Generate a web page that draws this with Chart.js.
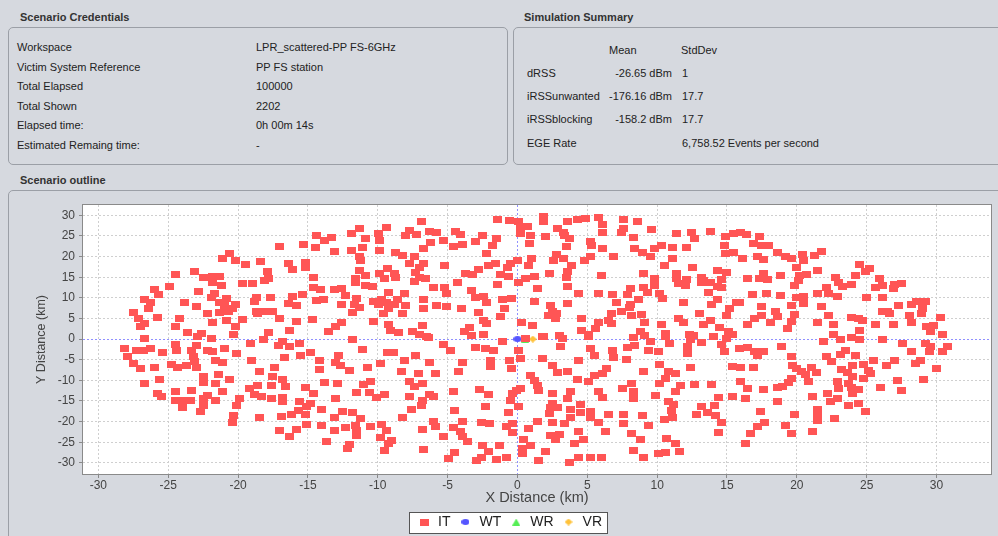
<!DOCTYPE html>
<html>
<head>
<meta charset="utf-8">
<script src="https://cdn.jsdelivr.net/npm/chart.js@4.4.0/dist/chart.umd.min.js"></script>
<style>
html, body { margin: 0; padding: 0; }
body { width: 998px; height: 536px; overflow: hidden; position: relative; background: #d6d9df;
  font-family: "Liberation Sans", Arial, sans-serif; font-size: 11px; color: #222; }
.ttl { position: absolute; font-weight: bold; color: #333; line-height: 14px; }
.box { position: absolute; border: 1px solid #9b9fa6; border-radius: 5px; }
.t { position: absolute; white-space: nowrap; line-height: 14px; }
.r { text-align: right; }
#chart { position: absolute; left: 28px; top: 190px; }
</style>
</head>
<body>
<div class="ttl" style="left:20px;top:10px">Scenario Credentials</div>
<div class="box" style="left:8px;top:27px;width:498px;height:136px"></div>
<div id="cred"></div>

<div class="ttl" style="left:524px;top:10px">Simulation Summary</div>
<div class="box" style="left:513px;top:27px;width:500px;height:136px"></div>
<div id="sum"></div>

<div class="ttl" style="left:20px;top:173px">Scenario outline</div>
<div class="box" style="left:8px;top:190px;width:1005px;height:360px"></div>
<canvas id="chart" width="970" height="349"></canvas>

<script>
// panel texts
var credLabels = ['Workspace', 'Victim System Reference', 'Total Elapsed', 'Total Shown', 'Elapsed time:', 'Estimated Remaing time:'];
var credValues = ['LPR_scattered-PP FS-6GHz', 'PP FS station', '100000', '2202', '0h 00m 14s', '-'];
var sumRows = ['dRSS', 'iRSSunwanted', 'iRSSblocking', 'EGE Rate'];
var sumMean = ['-26.65 dBm', '-176.16 dBm', '-158.2 dBm', ''];
var sumStd = ['1', '17.7', '17.7', '6,758.52 Events per second'];

// scatter data (km)
var itPoints = [
[-17.0,22.5],[-20.6,20.8],[-21.1,19.5],[-20.2,19.1],[-19.5,18.1],[-18.4,18.8],[-16.4,18.2],[-16.1,16.8],[-17.9,16.4],[-17.8,14.8],
[-18.1,14.3],[-24.5,15.6],[-23.1,16.4],[-22.5,14.9],[-21.8,15.2],[-21.3,15.1],[-21.8,13.6],[-21.2,13.0],[-24.9,12.7],[-26.0,12.1],
[-25.7,10.8],[-22.8,11.6],[-21.7,11.1],[-21.9,10.0],[-19.7,13.4],[-19.0,13.4],[-20.8,9.9],[-21.3,8.9],[-21.0,8.1],[-20.2,8.4],
[-18.7,10.1],[-18.8,9.2],[-17.7,10.1],[-16.1,10.4],[-16.4,8.6],[-15.8,8.2],[-23.8,8.8],[-23.0,8.0],[-26.7,9.5],[-26.3,8.8],
[-26.4,7.5],[-27.5,6.4],[-27.1,5.1],[-26.7,3.7],[-27.0,3.1],[-25.8,5.2],[-24.2,4.9],[-24.5,3.0],[-22.2,6.1],[-21.8,4.0],
[-21.3,6.5],[-20.8,4.5],[-20.7,6.8],[-20.4,7.3],[-20.2,3.1],[-19.7,4.7],[-18.7,6.6],[-18.6,6.1],[-18.0,6.6],[-17.5,6.6],
[-17.0,4.9],[-15.8,4.2],[-16.3,2.1],[-17.8,1.6],[-23.6,1.6],[-22.6,1.4],[-20.3,1.2],
[-6.9,28.4],[-1.4,29.0],[-0.6,28.8],[0.05,28.4],[-11.3,26.8],[-11.9,25.5],[-10.9,24.5],[-14.4,25.0],[-13.8,23.8],[-13.3,24.6],
[-14.45,22.3],[-15.3,23.0],[-9.95,25.7],[-9.4,27.0],[-9.9,23.9],[-7.7,26.4],[-8.0,25.1],[-7.2,25.3],[-6.3,26.1],[-5.8,25.9],
[-6.2,23.4],[-6.7,21.9],[-5.3,24.0],[-4.45,26.1],[-4.05,25.4],[-3.9,23.0],[-4.6,22.5],[-3.0,23.7],[-2.5,25.1],[-1.5,24.5],
[-1.8,22.7],[-2.2,20.7],[-13.1,21.2],[-11.9,21.5],[-11.1,22.1],[-9.9,21.5],[-11.3,19.9],[-11.2,19.1],[-8.7,21.1],[-8.2,20.3],
[-7.4,19.9],[-7.7,18.2],[-6.7,18.2],[-7.0,17.3],[-5.2,17.8],[-15.2,18.6],[-15.2,17.4],[-9.3,17.0],[-8.8,15.9],[-8.75,15.0],
[-11.3,16.6],[-10.9,15.4],[-9.9,15.8],[-9.5,14.8],[-7.3,16.2],[-7.0,15.0],[-6.55,14.6],[-7.4,14.0],[-14.6,15.0],[-11.6,14.8],
[-11.6,13.6],[-10.9,13.0],[-10.4,12.7],[-3.7,16.0],[-3.2,15.6],[-2.8,16.8],[-2.1,17.8],[-1.55,18.2],[-0.7,17.4],[-0.5,18.2],
[0.0,19.1],[-1.2,15.6],[-0.64,15.2],[-4.3,13.6],[-1.4,13.3],[0.07,13.6],[-14.6,12.4],[-14.1,12.0],[-13.1,12.0],[-12.6,12.3],
[-12.3,10.5],[-15.4,10.8],[-6.0,12.6],[-5.2,12.4],[-5.1,11.0],[-3.3,11.8],[-9.2,11.4],[-8.05,11.0],[-14.4,9.3],[-13.9,9.7],
[-11.5,9.9],[-11.7,8.3],[-11.3,7.7],[-11.8,6.5],[-12.6,8.3],[-10.3,9.1],[-9.7,9.6],[-9.95,8.3],[-9.4,8.9],[-8.6,9.5],
[-8.8,8.3],[-9.2,7.3],[-9.6,6.1],[-8.0,8.1],[-8.2,6.2],[-6.7,9.7],[-6.7,7.3],[-5.8,8.1],[-5.1,7.9],[-4.0,7.5],
[-3.0,10.1],[-2.4,10.4],[-2.2,8.8],[-1.1,9.7],[-0.45,9.9],[-0.95,7.5],[-1.2,5.5],[-2.8,6.5],[-2.4,4.5],[-2.2,3.8],
[-14.7,4.7],[-12.6,3.9],[-13.0,3.1],[-13.5,1.9],[-10.3,4.2],[-9.2,3.5],[-9.1,2.0],[-8.5,1.5],[-7.5,1.8],[-6.8,3.4],
[-7.0,1.2],[-6.5,0.6],[-3.8,1.9],[-3.4,2.7],[-3.3,0.8],[-2.4,1.2],
[1.9,29.6],[1.9,28.5],[0.25,27.2],[0.7,27.4],[0.25,25.5],[0.95,25.1],[0.85,23.1],[3.6,28.4],[4.3,29.0],[4.9,29.2],
[5.8,29.4],[6.1,27.7],[6.1,25.9],[7.6,29.0],[8.6,28.4],[7.6,26.8],[7.45,25.8],[9.6,26.6],[2.9,26.9],[3.3,25.8],
[3.4,25.1],[3.7,24.3],[2.0,24.9],[8.3,24.6],[11.4,25.5],[12.45,25.9],[12.7,24.3],[13.8,26.1],[14.9,24.9],[15.5,25.5],
[5.2,23.6],[5.3,22.7],[3.5,22.5],[6.1,21.9],[8.4,21.9],[8.95,21.1],[9.8,21.9],[10.3,22.7],[11.1,22.3],[12.1,22.1],
[14.8,22.6],[14.9,20.7],[15.5,21.1],[2.8,20.5],[3.3,19.5],[2.6,19.1],[1.0,19.6],[0.8,17.8],[5.2,19.9],[4.8,19.1],
[6.9,19.9],[9.5,19.9],[11.1,19.6],[10.5,17.8],[3.9,17.8],[3.6,16.4],[3.5,15.0],[2.3,16.0],[1.2,15.2],[0.55,14.8],
[6.0,15.4],[9.0,16.0],[9.8,14.8],[9.8,13.0],[9.0,12.6],[9.3,11.2],[8.1,12.2],[7.9,10.7],[12.5,17.4],[11.4,15.8],
[11.4,14.6],[11.5,13.4],[12.1,14.4],[12.0,13.0],[13.2,15.0],[13.3,14.2],[13.15,13.6],[13.8,13.6],[14.3,16.7],[15.0,16.2],
[14.6,14.4],[14.3,12.7],[14.6,12.5],[13.7,11.3],[14.3,9.6],[13.9,8.3],[15.7,8.8],[15.2,7.3],[15.0,5.7],[1.4,12.3],
[3.6,12.8],[4.4,11.1],[5.8,11.1],[6.8,10.7],[7.1,8.8],[8.1,8.4],[8.0,7.7],[8.7,9.5],[7.45,6.7],[8.2,5.7],
[8.9,5.9],[10.2,11.0],[10.4,9.8],[11.9,8.8],[1.2,9.1],[2.4,8.1],[2.5,6.6],[2.8,6.1],[2.2,5.7],[2.7,5.0],
[3.6,8.7],[4.6,5.0],[6.7,6.1],[6.5,4.5],[5.8,4.0],[5.6,2.6],[4.6,2.0],[5.1,1.2],[6.7,3.7],[9.1,4.0],
[8.8,1.8],[9.1,0.8],[10.3,3.5],[10.6,1.4],[11.5,4.9],[11.9,4.1],[13.0,6.1],[13.3,3.5],[13.8,4.5],[14.5,2.9],
[15.1,1.8],[15.4,1.2],[12.3,1.2],[12.6,0.8],[0.3,3.9],[1.1,3.4],[1.8,0.65],[3.0,0.8],
[15.95,25.9],[16.4,25.3],[17.3,24.9],[16.9,23.1],[17.5,22.7],[18.0,22.7],[18.6,21.1],[19.2,19.9],[19.6,19.5],[20.4,20.4],
[20.5,19.1],[21.3,20.3],[21.8,21.2],[16.1,19.5],[17.2,19.9],[17.6,19.3],[19.95,17.4],[21.5,16.6],[16.5,14.8],[17.6,15.8],
[17.3,14.8],[17.9,14.4],[18.8,15.4],[20.2,15.4],[20.7,15.6],[20.1,14.2],[19.8,13.1],[24.5,18.0],[25.2,17.2],[24.9,16.4],
[24.2,15.3],[22.8,14.9],[23.0,13.7],[23.3,12.8],[23.9,13.2],[22.1,12.6],[25.95,14.8],[26.1,13.0],[25.6,12.4],[27.0,13.2],
[26.95,12.2],[27.5,13.4],[16.8,10.8],[17.8,11.0],[18.8,10.6],[20.0,10.2],[20.5,10.4],[21.5,11.0],[22.3,11.0],[22.9,10.4],
[25.0,10.2],[26.1,10.2],[15.9,8.8],[17.5,7.8],[19.6,8.1],[20.5,8.7],[21.8,7.9],[18.5,6.6],[18.6,5.4],[19.8,5.9],
[19.6,4.2],[17.5,5.7],[17.0,4.9],[16.5,3.5],[18.1,3.9],[19.3,2.5],[21.5,4.0],[22.3,5.6],[22.6,3.5],[23.9,5.3],
[24.4,4.9],[24.7,4.5],[24.5,2.2],[22.6,1.2],[25.6,3.5],[26.1,6.6],[26.5,6.8],[26.6,6.1],[27.3,8.1],[28.2,8.3],
[28.6,9.1],[29.2,9.1],[29.0,7.3],[28.1,5.7],[28.9,6.1],[28.2,3.9],[26.9,3.5],[29.3,3.1],[29.8,3.3],[29.6,1.8],
[30.3,5.3],[30.4,1.2],[23.9,0.4],
[-26.7,0.2],[-22.9,0.6],[-21.9,0.2],[-18.2,0.0],[-16.8,-0.5],[-15.6,-1.0],[-28.1,-2.3],[-27.3,-2.7],[-26.8,-2.7],[-26.3,-2.3],
[-27.9,-4.3],[-25.4,-3.3],[-24.5,-1.3],[-24.4,-2.7],[-23.3,-2.7],[-23.0,-1.5],[-22.2,-2.7],[-21.8,-3.1],[-21.0,-2.3],[-20.1,-3.6],
[-19.1,-1.1],[-17.1,-1.5],[-16.3,-1.7],[-16.7,-4.5],[-19.05,-5.1],[-23.2,-4.3],[-23.1,-5.5],[-23.7,-6.5],[-24.3,-6.9],[-24.8,-6.1],
[-23.0,-6.9],[-21.6,-5.1],[-21.1,-5.7],[-27.5,-5.9],[-27.0,-7.1],[-26.0,-6.9],[-25.6,-9.8],[-26.7,-10.8],[-22.5,-9.1],[-22.5,-10.6],
[-21.4,-8.7],[-21.6,-10.8],[-20.6,-9.7],[-18.5,-7.8],[-17.4,-6.9],[-17.5,-9.1],[-16.8,-9.7],[-16.6,-11.4],[-17.6,-11.2],[-19.2,-12.0],
[-18.6,-11.2],[-18.8,-13.4],[-18.3,-13.8],[-17.6,-14.4],[-16.8,-14.2],[-16.8,-15.2],[-15.6,-15.2],[-15.7,-17.2],[-16.2,-18.2],[-16.9,-18.7],
[-15.8,-21.8],[-17.0,-22.1],[-16.3,-23.5],[-18.5,-18.9],[-19.9,-14.4],[-20.1,-16.0],[-20.3,-18.4],[-20.4,-20.3],[-21.1,-12.6],[-21.6,-15.0],
[-22.2,-13.6],[-22.5,-14.4],[-22.5,-16.2],[-22.7,-17.6],[-23.3,-12.4],[-23.4,-15.0],[-24.0,-14.8],[-24.5,-14.8],[-24.5,-12.6],[-24.0,-16.6],
[-25.8,-13.2],[-25.5,-14.0],
[-11.8,-0.2],[-6.4,0.3],[-1.1,-0.5],[0.1,-2.7],[-15.5,-3.9],[-14.8,-3.2],[-14.2,-5.3],[-14.2,-7.4],[-12.8,-3.9],[-13.0,-5.7],
[-12.7,-6.3],[-12.0,-7.7],[-11.1,-2.5],[-10.7,-6.9],[-9.8,-5.9],[-9.3,-3.3],[-8.9,-3.3],[-8.1,-5.3],[-7.3,-4.0],[-8.3,-7.9],
[-7.1,-8.3],[-6.3,-5.7],[-5.85,-8.3],[-5.3,-1.3],[-4.8,-2.7],[-3.9,-5.7],[-4.2,-7.9],[-3.0,-2.1],[-2.3,-2.3],[-1.7,-2.7],
[-1.9,-5.3],[-1.9,-6.7],[-0.6,-5.1],[-0.4,-7.1],[0.2,-4.7],[-15.2,-11.7],[-14.6,-13.2],[-14.8,-15.6],[-15.1,-16.4],[-15.2,-18.2],
[-13.8,-10.6],[-12.9,-10.8],[-13.0,-14.4],[-14.0,-17.0],[-13.1,-19.1],[-12.5,-17.6],[-11.8,-17.9],[-11.2,-19.3],[-11.5,-12.9],[-11.0,-11.0],
[-10.5,-10.4],[-10.6,-12.9],[-10.1,-14.2],[-9.5,-13.4],[-15.1,-20.7],[-14.0,-20.9],[-13.1,-22.1],[-12.3,-21.5],[-11.6,-20.9],[-11.5,-22.1],
[-11.5,-23.3],[-10.5,-21.3],[-9.7,-20.7],[-9.4,-22.1],[-9.8,-23.9],[-13.7,-24.9],[-12.0,-25.5],[-12.2,-26.5],[-9.0,-24.5],[-9.2,-25.3],
[-9.5,-26.9],[-7.7,-10.4],[-7.4,-11.6],[-6.8,-10.8],[-7.7,-14.0],[-6.8,-14.8],[-6.9,-16.0],[-6.3,-13.4],[-6.0,-14.0],[-7.6,-17.0],
[-8.2,-18.9],[-6.0,-19.9],[-5.9,-21.1],[-6.8,-21.9],[-6.7,-26.8],[-5.3,-23.7],[-4.6,-12.8],[-4.5,-17.2],[-4.6,-21.5],[-3.9,-19.9],
[-4.1,-22.5],[-3.9,-23.5],[-3.6,-24.9],[-4.5,-27.6],[-4.9,-29.0],[-2.7,-12.1],[-2.1,-13.4],[-2.3,-16.4],[-2.6,-20.1],[-2.0,-20.5],
[-2.5,-25.9],[-2.1,-27.3],[-2.6,-28.6],[-2.9,-29.4],[-1.5,-29.1],[-0.8,-28.8],[-1.3,-25.7],[-0.8,-21.3],[-0.36,-20.5],[-0.36,-22.7],
[-0.64,-17.9],[-0.48,-15.0],[-0.36,-13.2],[-0.1,-12.4],[0.1,-16.4],
[1.9,0.6],[3.2,0.2],[5.1,0.7],[8.3,0.3],[9.5,-0.6],[10.6,0.6],[12.4,-0.2],[13.2,-0.8],[14.0,0.6],[15.0,0.2],
[3.1,-1.9],[5.2,-2.4],[5.55,-3.9],[6.8,-2.7],[6.9,-4.5],[7.9,-2.1],[8.4,-1.5],[7.8,-4.9],[9.4,-2.7],[10.1,-2.9],
[10.9,-1.1],[12.2,-1.9],[12.2,-3.5],[14.6,-1.3],[14.8,-3.1],[1.8,-4.7],[4.4,-5.3],[2.5,-6.5],[2.9,-8.1],[3.6,-7.9],
[6.4,-7.1],[6.1,-8.3],[5.5,-8.9],[5.1,-10.2],[4.3,-9.8],[0.9,-8.9],[1.2,-10.0],[1.4,-11.2],[1.5,-12.4],[0.2,-12.0],
[9.0,-7.9],[10.2,-6.1],[10.8,-7.8],[11.3,-8.3],[10.6,-9.5],[10.2,-10.8],[11.7,-11.2],[11.3,-12.8],[12.4,-6.9],[12.7,-11.0],
[13.9,-11.0],[15.4,-6.7],[15.4,-13.8],[14.4,-14.2],[7.5,-12.0],[8.2,-10.8],[8.3,-12.6],[8.3,-14.4],[9.9,-13.6],[5.8,-12.8],
[6.1,-14.2],[3.8,-12.6],[3.6,-14.4],[2.5,-13.2],[2.5,-15.6],[2.4,-16.7],[2.3,-18.0],[2.9,-16.7],[4.5,-15.9],[4.5,-17.8],
[3.8,-17.0],[3.8,-18.9],[3.4,-20.5],[2.5,-20.1],[1.4,-19.9],[0.8,-21.7],[5.2,-17.6],[5.2,-18.9],[5.8,-20.2],[6.5,-18.2],
[7.6,-18.3],[7.6,-20.5],[8.95,-18.6],[9.4,-20.9],[10.5,-19.4],[11.1,-18.9],[11.0,-17.2],[11.2,-15.8],[10.8,-15.1],[12.8,-18.3],
[13.2,-16.4],[13.6,-17.8],[14.1,-16.2],[14.2,-18.4],[14.6,-20.3],[14.4,-22.7],[4.4,-22.5],[4.7,-24.3],[6.3,-22.3],[8.2,-22.9],
[8.8,-24.3],[10.7,-24.0],[11.3,-25.3],[11.6,-27.2],[10.6,-27.5],[10.1,-27.8],[9.0,-28.6],[8.3,-26.9],[2.4,-23.3],[3.0,-23.1],
[2.7,-24.3],[4.05,-25.3],[0.4,-24.3],[0.95,-25.9],[0.35,-26.5],[0.35,-27.8],[2.0,-27.3],[1.5,-29.4],[3.7,-29.8],[4.4,-28.8],
[5.2,-28.6],[6.0,-28.6],[0.55,0.05],
[21.9,-0.6],[23.1,0.0],[24.5,-0.2],[26.1,-0.2],[27.6,-1.1],[29.2,-1.1],[29.6,-1.9],[30.8,-1.9],[30.4,-3.1],[29.5,-3.1],
[28.2,-2.9],[28.85,-5.1],[28.5,-5.9],[27.0,-5.3],[26.4,-6.5],[25.5,-5.3],[24.8,-6.1],[25.1,-7.5],[25.3,-8.3],[24.8,-9.5],
[24.2,-3.9],[23.5,-2.7],[23.1,-3.7],[22.1,-4.3],[22.5,-5.5],[24.0,-6.5],[23.2,-7.3],[23.6,-8.1],[24.0,-9.0],[22.9,-10.4],
[23.7,-10.8],[23.9,-11.8],[24.4,-12.2],[24.0,-13.2],[23.0,-12.0],[22.9,-14.4],[22.4,-15.2],[22.2,-13.2],[23.7,-16.2],[24.4,-15.6],
[24.95,-17.5],[22.7,-19.3],[21.5,-17.0],[21.5,-18.2],[21.5,-19.8],[21.1,-22.3],[19.8,-18.2],[19.2,-20.9],[19.6,-22.9],[21.1,-13.8],
[21.4,-8.1],[21.05,-6.9],[20.6,-8.7],[20.8,-10.4],[20.3,-7.8],[20.0,-7.1],[19.7,-6.5],[19.6,-4.3],[18.9,-1.9],[19.6,-9.6],
[19.4,-10.6],[19.0,-11.6],[18.6,-11.7],[18.6,-15.2],[17.6,-12.2],[16.5,-11.9],[16.3,-14.4],[17.4,-17.6],[17.7,-20.2],[17.2,-21.3],
[16.7,-22.9],[16.3,-25.3],[15.9,-2.3],[16.5,-2.1],[17.0,-3.1],[17.2,-4.0],[17.6,-2.9],[16.9,-6.9],[16.0,-6.9],[16.0,-10.2],
[26.0,-11.8],[27.2,-10.1],[27.5,-12.4],[29.1,-9.7],[30.0,-7.1]
];
var wtPoints = [[0, 0]];
var wrPoints = [[0.55, 0]];
var vrPoints = [[1.1, 0]];
var seriesNames = ['IT', 'WT', 'WR', 'VR'];
var xTicks = [-30, -25, -20, -15, -10, -5, 0, 5, 10, 15, 20, 25, 30];
var yTicks = [-30, -25, -20, -15, -10, -5, 0, 5, 10, 15, 20, 25, 30];

// panels
function addText(parent, txt, left, top, cls, width) {
  var d = document.createElement('div');
  d.className = 't' + (cls ? ' ' + cls : '');
  d.textContent = txt;
  d.style.left = left + 'px';
  d.style.top = top + 'px';
  if (width) d.style.width = width + 'px';
  parent.appendChild(d);
}
var cred = document.getElementById('cred');
var credY = [47, 67, 86, 106, 125, 145];
credLabels.forEach(function (l, i) {
  addText(cred, l, 17, credY[i] - 7);
  addText(cred, credValues[i], 256, credY[i] - 7);
});
var sum = document.getElementById('sum');
var sumY = [73, 96, 119, 143];
addText(sum, 'Mean', 609, 43);
addText(sum, 'StdDev', 681, 43);
sumRows.forEach(function (l, i) {
  addText(sum, l, 527, sumY[i] - 7);
  addText(sum, sumMean[i], 572, sumY[i] - 7, 'r', 100);
  addText(sum, sumStd[i], 682, sumY[i] - 7);
});

// marker shapes
function marker(w, h, color, shape) {
  var c = document.createElement('canvas');
  c.width = w; c.height = h;
  var g = c.getContext('2d');
  g.fillStyle = color;
  g.beginPath();
  if (shape === 'rect') g.rect(0, 0, w, h);
  else if (shape === 'circle') g.ellipse(w / 2, h / 2, w / 2, h / 2, 0, 0, Math.PI * 2);
  else if (shape === 'tri') { g.moveTo(w / 2, 0); g.lineTo(w, h); g.lineTo(0, h); g.closePath(); }
  else { g.moveTo(w / 2, 0); g.lineTo(w, h / 2); g.lineTo(w / 2, h); g.lineTo(0, h / 2); g.closePath(); }
  g.fill();
  return c;
}
var colors = ['#ff5555', '#5555ff', '#55ee55', '#ffc23a'];
var styles = [marker(9, 7, colors[0], 'rect'), marker(8, 6, colors[1], 'circle'),
              marker(8, 7, colors[2], 'tri'), marker(8, 7, colors[3], 'diamond')];

function toXY(arr) { return arr.map(function (p) { return {x: p[0], y: p[1]}; }); }
var allPoints = [itPoints, wtPoints, wrPoints, vrPoints];

var plotFrame = {
  id: 'plotFrame',
  beforeDraw: function (chart) {
    var ctx = chart.ctx, a = chart.chartArea, lg = chart.legend;
    ctx.save();
    ctx.fillStyle = '#ffffff';
    ctx.fillRect(a.left, a.top, a.right - a.left, a.bottom - a.top);
    // legend box
    var pad = lg.options.labels.padding;
    var x0 = (lg.left + pad + lg.right - lg.lineWidths[0]) / 2;
    var x1 = x0 + lg.lineWidths[0] - pad;
    var cy = lg.top + pad + 7;
    var bx = Math.round(x0 - 8) + 0.5, by = Math.round(cy - 10.5) + 0.5;
    var bw = Math.round(x1 + 6 - bx), bh = 21;
    ctx.fillRect(bx, by, bw, bh);
    ctx.strokeStyle = '#555';
    ctx.lineWidth = 1;
    ctx.strokeRect(bx, by, bw, bh);
    ctx.restore();
  },
  beforeDatasetsDraw: function (chart) {
    var ctx = chart.ctx, a = chart.chartArea;
    var px = Math.round(chart.scales.x.getPixelForValue(0)) + 0.5;
    var py = Math.round(chart.scales.y.getPixelForValue(0)) + 0.5;
    ctx.save();
    ctx.strokeStyle = '#9090ff';
    ctx.lineWidth = 1;
    ctx.setLineDash([2, 2]);
    ctx.beginPath();
    ctx.moveTo(px, a.top); ctx.lineTo(px, a.bottom);
    ctx.moveTo(a.left, py); ctx.lineTo(a.right, py);
    ctx.stroke();
    ctx.restore();
  },
  afterDraw: function (chart) {
    var ctx = chart.ctx, a = chart.chartArea;
    ctx.save();
    ctx.strokeStyle = '#8a8a8a';
    ctx.lineWidth = 1;
    ctx.strokeRect(Math.round(a.left) - 0.5, Math.round(a.top) - 0.5,
      Math.round(a.right - a.left) + 1, Math.round(a.bottom - a.top) + 1);
    ctx.restore();
  }
};

function gridColor(c) { return c.tick && c.tick.value === 0 ? 'rgba(0,0,0,0)' : '#cfcfcf'; }

new Chart(document.getElementById('chart'), {
  type: 'scatter',
  data: {
    datasets: seriesNames.map(function (n, i) {
      return {
        label: n,
        data: toXY(allPoints[i]),
        pointStyle: styles[i],
        backgroundColor: colors[i],
        borderColor: colors[i],
        pointRadius: 4
      };
    })
  },
  options: {
    responsive: false,
    animation: false,
    devicePixelRatio: 1,
    layout: { padding: { left: 0, right: 7, top: 15, bottom: 0 } },
    plugins: {
      tooltip: { enabled: false },
      legend: {
        position: 'bottom',
        labels: {
          usePointStyle: true,
          boxWidth: 14,
          padding: 8,
          color: '#222',
          font: { family: '"Liberation Sans", Arial, sans-serif', size: 14 }
        }
      }
    },
    scales: {
      x: {
        type: 'linear',
        min: -31.1,
        max: 33.9,
        afterFit: function (s) { s.height = 33; },
        afterBuildTicks: function (s) { s.ticks = xTicks.map(function (v) { return {value: v}; }); },
        ticks: { padding: 0, color: '#444', font: { family: '"Liberation Sans", Arial, sans-serif', size: 12 } },
        grid: { color: gridColor, tickColor: '#8a8a8a', tickLength: 4, lineWidth: 1 },
        border: { display: false, dash: [2, 2] },
        title: { display: true, text: 'X Distance (km)', color: '#444', padding: { top: 0, bottom: 0 },
                 font: { family: '"Liberation Sans", Arial, sans-serif', size: 14.5 } }
      },
      y: {
        type: 'linear',
        min: -32.7,
        max: 32.5,
        afterFit: function (s) { s.width = 55; },
        afterBuildTicks: function (s) { s.ticks = yTicks.map(function (v) { return {value: v}; }); },
        ticks: { padding: 4, color: '#444', font: { family: '"Liberation Sans", Arial, sans-serif', size: 12 } },
        grid: { color: gridColor, tickColor: '#8a8a8a', tickLength: 4, lineWidth: 1 },
        border: { display: false, dash: [2, 2] },
        title: { display: true, text: 'Y Distance (km)', color: '#444', padding: { top: 6, bottom: 0 },
                 font: { family: '"Liberation Sans", Arial, sans-serif', size: 12.5 } }
      }
    }
  },
  plugins: [plotFrame]
});
</script>
</body>
</html>
